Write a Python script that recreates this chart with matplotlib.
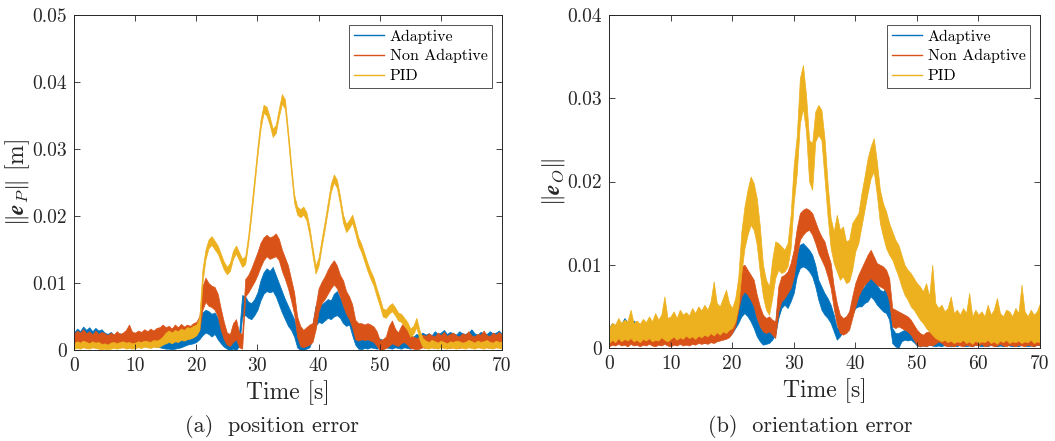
import numpy as np
import matplotlib
matplotlib.use("Agg")
import matplotlib.pyplot as plt
from matplotlib.lines import Line2D
from matplotlib.ticker import FuncFormatter, MultipleLocator

plt.rcParams["font.family"] = ["cmr10", "DejaVu Serif"]
plt.rcParams["mathtext.fontset"] = "cm"
plt.rcParams["axes.unicode_minus"] = False

# time grid [s], one sample every 0.5 s
time = np.arange(0, 70.5, 0.5)

labels = ["Adaptive", "Non Adaptive", "PID"]
colors = ["#0072BD", "#D95319", "#EDB120"]

# Position error ||e_P||: (min, max) of the noisy trace in each 0.5 s slot, in mm
pos_adaptive = [
    (0.5,2.6),(0.7,3.2),(0.6,2.8),(0.8,3.5),(0.6,3.0),(0.7,3.4),(0.5,2.8),(0.8,3.3),(0.6,2.9),(0.5,3.1),
    (0.6,2.6),(0.4,2.4),(0.6,2.7),(0.5,2.3),(0.4,2.2),(0.6,2.5),(0.5,2.1),(0.4,2.3),(0.6,2.6),(0.5,2.4),
    (0.4,2.2),(0.6,2.5),(0.5,2.3),(0.6,2.6),(0.5,2.4),(0.4,2.2),(0.6,2.7),(0.5,2.4),(0.4,2.3),(0.3,2.0),
    (0.2,1.8),(0.2,1.6),(0.1,1.5),(0.2,1.6),(0.3,1.7),(0.4,1.8),(0.6,2.0),(0.8,2.3),(0.9,2.5),(1.0,2.8),
    (1.2,3.0),(1.6,3.6),(2.2,5.6),(2.6,6.0),(2.4,5.8),(2.0,5.4),(2.4,5.6),(1.6,4.8),(1.0,3.6),(0.5,2.6),
    (0.2,2.0),(0.0,1.8),(0.2,2.2),(0.0,1.6),(0.6,2.6),(5.0,8.2),(5.2,8.0),(4.8,7.2),(4.6,7.0),(5.2,7.6),
    (6.0,8.6),(7.4,10.4),(8.4,11.6),(8.8,12.2),(8.6,11.8),(8.8,12.4),(8.0,11.2),(6.8,10.0),(5.6,8.8),(4.6,7.6),
    (3.6,6.6),(3.0,5.6),(2.0,4.6),(0.4,2.4),(0.0,1.6),(0.0,1.4),(0.2,1.6),(0.4,2.0),(1.6,3.8),(3.6,6.6),
    (4.2,7.0),(4.0,6.8),(4.4,7.2),(4.8,7.6),(4.6,7.4),(5.0,8.4),(5.2,8.8),(4.8,7.8),(4.0,7.2),(3.6,6.6),
    (3.8,7.0),(2.2,5.4),(0.8,3.0),(0.2,2.0),(0.1,1.6),(0.3,1.8),(0.2,1.5),(0.4,1.9),(0.3,1.6),(0.2,1.4),
    (0.3,1.7),(0.2,1.5),(0.4,1.8),(0.3,1.6),(0.2,1.4),(0.4,1.7),(0.3,1.5),(0.2,1.6),(0.4,1.8),(0.3,1.5),
    (0.2,1.4),(0.4,2.0),(0.5,2.4),(0.6,2.2),(0.5,2.6),(0.7,2.3),(0.6,2.5),(0.5,2.2),(0.7,2.8),(0.6,2.4),
    (0.5,2.6),(0.7,3.0),(0.6,2.4),(0.5,2.7),(0.7,2.5),(0.6,2.3),(0.5,2.8),(0.7,2.5),(0.6,2.4),(0.5,2.6),
    (0.7,3.1),(0.6,2.5),(0.5,2.3),(0.7,2.7),(0.6,2.5),(0.5,2.4),(0.7,2.8),(0.6,2.5),(0.5,2.6),(0.7,2.9),
    (0.6,2.4)]
pos_nonadaptive = [
    (0.3,2.4),(0.5,2.9),(0.4,2.6),(0.6,3.1),(0.3,2.5),(0.5,2.8),(0.4,2.3),(0.6,2.9),(0.3,2.4),(0.5,2.7),
    (0.4,2.5),(0.3,2.2),(0.5,2.6),(0.4,2.3),(0.6,2.8),(0.4,2.4),(0.5,2.6),(0.7,3.0),(0.6,3.8),(0.5,2.7),
    (0.6,2.6),(0.7,2.9),(0.6,2.7),(0.8,3.1),(0.7,2.8),(0.9,3.2),(0.8,2.9),(1.0,3.3),(1.1,3.4),(1.3,3.8),
    (1.2,3.4),(1.4,3.6),(1.3,3.2),(1.5,3.8),(1.4,3.4),(1.6,3.9),(1.5,3.5),(1.7,3.8),(1.8,3.6),(2.0,4.0),
    (2.3,4.2),(3.0,5.0),(6.0,9.5),(7.2,10.8),(6.6,10.0),(6.4,9.6),(6.0,9.4),(5.0,8.4),(3.0,6.2),(1.6,4.2),
    (0.8,2.6),(0.6,2.4),(1.2,4.0),(1.6,4.6),(0.4,2.6),(0.2,2.4),(8.0,10.6),(8.6,11.2),(9.4,12.2),(10.2,13.4),
    (11.2,14.6),(12.4,16.0),(13.4,16.8),(14.0,17.2),(13.6,16.8),(13.8,17.0),(14.0,17.4),(13.4,16.6),(11.8,15.0),(10.6,13.8),
    (9.2,12.6),(7.4,10.6),(5.4,8.6),(2.0,5.0),(0.6,3.6),(0.4,3.0),(0.6,3.4),(0.8,3.8),(1.2,4.0),(3.0,6.5),
    (5.8,9.2),(7.0,10.2),(7.6,11.0),(8.4,12.0),(9.2,12.8),(9.8,13.4),(9.2,12.6),(8.0,11.2),(6.6,10.4),(5.4,8.8),
    (4.6,8.0),(3.4,6.8),(1.6,4.5),(1.4,4.0),(1.6,4.0),(1.5,3.8),(1.6,4.0),(1.4,3.8),(1.2,3.5),(0.6,2.8),
    (0.0,1.5),(0.1,1.6),(0.3,2.0),(0.6,3.6),(1.0,4.4),(0.8,3.2),(0.6,2.6),(1.0,3.6),(1.2,4.2),(0.8,3.2),
    (0.3,2.2),(0.2,2.0),(0.1,1.8),(0.2,2.0),(0.4,2.3),(0.3,2.1),(0.5,2.5),(0.4,2.2),(0.3,2.0),(0.5,2.6),
    (0.4,2.2),(0.6,2.7),(0.4,2.1),(0.3,2.4),(0.5,2.6),(0.4,2.2),(0.3,2.0),(0.5,2.5),(0.4,2.3),(0.6,2.8),
    (0.4,2.2),(0.3,2.0),(0.5,2.4),(0.4,2.3),(0.6,2.9),(0.4,2.2),(0.3,2.1),(0.5,2.6),(0.4,2.3),(0.6,2.7),
    (0.4,2.2)]
pos_pid = [
    (0.2,1.0),(0.3,1.3),(0.2,1.1),(0.4,1.4),(0.3,1.2),(0.2,1.0),(0.4,1.3),(0.3,1.1),(0.2,1.2),(0.1,0.9),
    (0.2,1.0),(0.1,0.8),(0.2,1.1),(0.3,1.2),(0.2,1.0),(0.3,1.2),(0.4,1.3),(0.2,1.1),(0.3,1.2),(0.2,1.0),
    (0.3,1.1),(0.4,1.3),(0.3,1.2),(0.5,1.4),(0.4,1.3),(0.3,1.2),(0.5,1.5),(0.4,1.4),(0.5,1.6),(0.8,2.0),
    (1.0,2.6),(1.2,2.9),(1.0,2.6),(1.3,3.0),(1.2,2.8),(1.5,3.2),(1.4,3.0),(1.6,3.4),(1.7,3.3),(1.9,3.6),
    (2.2,3.8),(3.0,4.8),(10.0,12.0),(13.5,15.0),(15.2,16.5),(15.7,17.0),(15.0,16.3),(14.4,15.6),(13.2,14.4),(12.0,13.2),
    (11.3,12.4),(11.8,13.0),(13.6,14.8),(14.4,15.6),(13.4,14.6),(12.4,13.6),(12.8,14.0),(16.0,17.2),(20.0,21.4),(24.5,25.8),
    (29.0,30.3),(33.0,34.3),(35.4,36.6),(35.0,36.3),(33.6,34.8),(31.8,33.0),(32.4,33.6),(34.8,36.0),(36.8,38.2),(36.0,37.4),
    (31.5,32.8),(26.5,27.8),(22.0,23.2),(20.2,21.4),(19.8,21.0),(20.2,21.4),(19.4,20.6),(17.2,18.4),(14.2,15.4),(11.4,12.6),
    (12.6,13.8),(15.4,16.6),(18.0,19.2),(20.8,22.0),(23.6,24.8),(25.0,26.2),(24.2,25.4),(21.8,23.0),(19.0,20.2),(17.6,18.8),
    (18.2,19.4),(19.0,20.2),(17.4,18.6),(15.6,16.8),(14.6,15.8),(13.2,14.4),(11.8,13.0),(10.6,11.8),(9.6,10.8),(8.0,9.2),
    (6.6,7.8),(5.0,6.2),(4.8,6.0),(5.4,6.6),(5.8,7.0),(5.2,6.4),(4.4,5.6),(4.2,5.4),(3.6,4.8),(3.0,4.2),
    (2.0,3.2),(2.4,3.6),(3.4,4.8),(1.6,3.0),(0.5,1.8),(0.3,1.4),(0.2,1.2),(0.4,1.5),(0.3,1.3),(0.2,1.1),
    (0.4,1.4),(0.3,1.2),(0.2,1.0),(0.4,1.3),(0.3,1.2),(0.2,1.4),(0.4,1.3),(0.3,1.1),(0.2,1.2),(0.4,1.5),
    (0.3,1.3),(0.2,1.1),(0.4,1.4),(0.3,1.2),(0.2,1.3),(0.4,1.5),(0.3,1.2),(0.2,1.1),(0.4,1.4),(0.3,1.2),
    (0.2,1.3)]

# Orientation error ||e_O||: (min, max) of the noisy trace in each 0.5 s slot, x 1e-3
ori_adaptive = [
    (0.5,2.4),(0.8,3.0),(0.6,2.7),(0.9,3.2),(0.7,2.9),(1.0,3.6),(0.8,3.1),(0.6,2.8),(0.9,3.3),(0.7,3.0),
    (0.6,2.7),(0.8,3.0),(0.7,2.8),(0.9,3.2),(0.6,2.6),(0.8,2.9),(0.7,2.7),(0.6,2.5),(0.8,2.9),(0.7,2.7),
    (0.6,2.6),(0.8,3.0),(0.7,2.8),(0.9,3.3),(0.8,3.1),(0.7,3.4),(0.9,3.2),(0.8,3.6),(0.7,3.2),(0.8,3.0),
    (0.7,2.8),(0.6,2.6),(0.7,2.7),(0.8,2.9),(0.7,2.6),(0.9,2.8),(1.0,2.9),(1.2,3.0),(1.3,3.2),(1.4,3.0),
    (1.8,3.2),(2.4,4.4),(3.0,6.0),(3.8,7.4),(4.2,7.8),(3.8,7.0),(3.2,6.2),(2.4,5.2),(1.4,3.6),(0.8,2.6),
    (0.4,2.0),(0.5,2.2),(0.6,2.0),(1.0,2.6),(1.6,3.0),(3.6,6.4),(4.8,7.8),(5.2,7.8),(4.8,7.0),(5.6,8.2),
    (6.6,9.4),(8.6,11.4),(9.6,12.4),(9.8,12.6),(9.6,12.2),(9.2,11.8),(8.6,11.2),(7.4,10.0),(5.8,8.2),(4.6,7.4),
    (4.0,6.6),(3.6,6.0),(3.0,5.2),(2.0,4.0),(1.0,2.4),(1.4,2.8),(2.0,3.2),(2.4,3.6),(2.8,4.2),(4.0,5.8),
    (4.8,6.6),(5.0,6.8),(5.0,7.0),(5.4,7.4),(5.6,8.2),(6.2,9.0),(5.8,8.4),(5.2,7.6),(4.8,7.0),(4.4,6.8),
    (4.2,7.2),(3.4,6.0),(0.6,2.4),(0.2,1.8),(0.0,1.8),(0.8,2.0),(1.0,2.2),(0.9,2.0),(1.0,2.3),(0.7,2.0),
    (0.3,1.6),(0.2,1.4),(0.3,1.5),(0.2,1.3),(0.4,1.6),(0.3,1.4),(0.2,1.5),(0.3,1.7),(0.2,1.4),(0.4,1.6),
    (0.3,1.5),(0.2,1.3),(0.3,1.6),(0.2,1.4),(0.4,1.7),(0.3,1.5),(0.2,1.3),(0.3,1.6),(0.2,1.4),(0.4,1.5),
    (0.3,1.7),(0.2,1.4),(0.3,1.5),(0.2,1.3),(0.4,1.6),(0.3,1.4),(0.2,1.5),(0.3,1.7),(0.2,1.4),(0.4,1.6),
    (0.3,1.5),(0.2,1.3),(0.3,1.6),(0.2,1.4),(0.4,1.7),(0.3,1.5),(0.2,1.3),(0.3,1.6),(0.2,1.4),(0.4,1.5),
    (0.3,1.6)]
ori_nonadaptive = [
    (0.2,1.8),(0.4,2.2),(0.3,2.0),(0.5,2.4),(0.3,2.1),(0.4,2.3),(0.2,1.9),(0.5,2.4),(0.3,2.0),(0.4,2.2),
    (0.2,1.8),(0.4,2.1),(0.3,2.0),(0.5,2.3),(0.3,1.9),(0.2,2.1),(0.4,2.2),(0.3,2.0),(0.5,2.4),(0.3,2.1),
    (0.2,1.9),(0.4,2.2),(0.3,2.0),(0.5,2.3),(0.3,2.1),(0.4,2.2),(0.3,1.9),(0.5,2.3),(0.4,2.1),(0.6,2.4),
    (0.5,2.2),(0.6,2.5),(0.5,2.3),(0.7,2.6),(0.6,2.4),(0.8,2.8),(0.9,2.7),(1.0,3.0),(1.1,3.0),(1.3,3.2),
    (1.8,3.6),(2.6,4.8),(4.6,7.8),(6.2,9.8),(6.8,10.0),(6.4,9.4),(5.8,8.8),(5.0,8.2),(3.6,6.4),(2.6,5.0),
    (2.0,4.0),(1.8,3.6),(2.0,3.8),(1.6,3.4),(1.2,3.2),(4.4,7.4),(5.6,8.6),(6.0,8.8),(6.6,9.2),(7.2,10.2),
    (8.6,11.8),(11.0,14.4),(13.0,16.2),(13.6,16.6),(14.0,16.8),(14.2,16.6),(13.6,16.2),(12.6,15.2),(11.4,14.2),(10.6,13.4),
    (9.8,12.8),(8.6,11.4),(7.2,10.2),(4.8,7.4),(2.8,5.4),(1.8,4.0),(1.6,3.6),(1.8,3.8),(2.2,4.4),(3.6,6.2),
    (5.0,7.8),(6.2,8.8),(7.0,9.6),(7.6,10.4),(8.0,11.2),(8.4,11.8),(8.0,11.0),(7.6,10.2),(7.4,10.0),(7.2,9.8),
    (6.8,9.4),(5.6,8.4),(2.6,4.8),(2.4,4.6),(2.6,4.4),(2.4,4.2),(2.2,4.0),(2.0,3.8),(1.6,3.4),(1.0,2.8),
    (0.4,2.2),(0.2,1.8),(0.3,1.6),(0.2,1.9),(0.4,2.0),(0.3,2.2),(0.5,2.6),(0.8,3.8),(0.6,2.8),(0.3,2.0),
    (0.2,1.8),(0.3,2.0),(0.2,1.7),(0.4,2.1),(0.3,1.9),(0.2,1.8),(0.4,2.2),(0.3,1.9),(0.2,1.7),(0.4,2.0),
    (0.3,1.8),(0.5,2.3),(0.2,1.9),(0.3,1.7),(0.4,2.1),(0.2,1.8),(0.3,2.0),(0.5,2.4),(0.3,1.9),(0.2,1.7),
    (0.4,2.1),(0.3,1.8),(0.2,2.0),(0.4,2.2),(0.3,1.9),(0.2,1.7),(0.4,2.1),(0.3,1.9),(0.2,1.8),(0.4,2.2),
    (0.3,2.0)]
ori_pid = [
    (0.6,2.4),(1.0,3.0),(0.7,2.8),(1.2,3.6),(0.8,3.0),(1.1,3.4),(0.9,3.2),(1.2,4.6),(0.8,3.0),(1.0,3.3),
    (0.7,2.9),(1.1,3.5),(0.9,3.1),(1.2,3.8),(0.8,3.2),(1.0,4.2),(0.9,3.4),(1.3,4.0),(1.0,6.2),(0.8,3.6),
    (1.1,3.8),(1.4,4.4),(1.0,3.6),(1.3,4.6),(1.1,4.0),(1.5,4.3),(1.2,3.9),(1.4,4.8),(1.1,4.2),(1.5,5.0),
    (1.3,4.5),(1.6,5.2),(1.4,4.6),(1.8,5.6),(1.5,8.0),(1.9,5.4),(1.6,5.0),(2.0,6.0),(1.8,7.0),(2.2,5.4),
    (2.4,4.8),(3.2,6.0),(5.0,8.5),(9.0,14.0),(12.0,17.0),(13.6,19.0),(14.8,20.6),(14.2,19.8),(12.4,18.0),(9.0,14.6),
    (6.2,10.0),(4.6,8.2),(4.0,7.4),(6.0,10.6),(8.4,12.8),(9.4,12.6),(9.0,12.2),(9.2,11.8),(9.8,12.6),(12.0,16.0),
    (17.5,22.0),(21.0,25.5),(27.0,32.4),(28.8,34.0),(26.0,30.4),(20.0,25.0),(19.0,24.6),(24.8,28.4),(25.6,29.2),(25.0,28.6),
    (20.4,25.2),(15.8,19.8),(12.0,15.6),(10.2,14.0),(9.2,16.0),(8.2,14.2),(8.6,14.6),(7.8,12.8),(8.0,13.0),(9.4,15.0),
    (11.6,15.6),(12.6,16.2),(14.6,18.6),(16.6,20.6),(18.6,22.8),(20.4,24.2),(21.2,25.2),(18.4,22.4),(15.0,19.0),(13.4,17.4),
    (12.0,16.4),(11.2,15.0),(10.6,14.0),(9.6,13.0),(8.6,12.4),(7.4,11.2),(6.4,10.0),(5.8,9.4),(5.0,9.0),(4.6,8.4),
    (4.0,7.8),(3.4,7.4),(3.0,6.8),(2.4,7.8),(2.0,6.2),(1.6,10.0),(1.2,5.4),(1.0,4.8),(0.8,5.2),(1.0,4.4),
    (0.7,4.8),(0.9,6.2),(0.6,4.2),(0.8,4.6),(0.7,4.0),(1.0,4.8),(0.6,4.2),(0.8,6.6),(0.5,3.8),(0.9,4.6),
    (0.6,4.0),(0.8,4.4),(0.7,3.8),(1.0,5.2),(0.6,4.0),(0.8,4.6),(0.5,6.0),(0.9,4.2),(0.7,3.8),(1.0,4.6),
    (0.6,4.4),(0.8,3.8),(0.7,4.8),(0.9,4.2),(0.6,7.6),(0.8,4.4),(0.7,3.8),(1.0,4.6),(0.6,4.0),(0.8,4.4),
    (0.7,5.4)]

pos_series = [pos_adaptive, pos_nonadaptive, pos_pid]
ori_series = [ori_adaptive, ori_nonadaptive, ori_pid]

fig = plt.figure(figsize=(10.55, 4.41), dpi=100)
W, H = 1055, 441
ax1 = fig.add_axes([74 / W, (H - 350) / H, 428 / W, 335 / H])
ax2 = fig.add_axes([609 / W, (H - 348) / H, 431 / W, 333 / H])

edge = "#262626"
fmt = FuncFormatter(lambda v, p: "0" if abs(v) < 1e-12 else f"{v:g}")


def draw(ax, series, ymax, ylabel, caption, cx):
    for band, c in zip(series, colors):
        lo, hi = np.asarray(band, dtype=float).T * 1e-3
        ax.fill_between(time, lo, hi, color=c, lw=0.5)
    ax.set_xlim(0, 70)
    ax.set_ylim(0, ymax)
    ax.xaxis.set_major_locator(MultipleLocator(10))
    ax.yaxis.set_major_locator(MultipleLocator(0.01))
    ax.yaxis.set_major_formatter(fmt)
    ax.tick_params(direction="in", top=True, right=True, length=4, width=0.6,
                   colors=edge, labelsize=14, pad=5)
    for s in ax.spines.values():
        s.set_color(edge)
        s.set_linewidth(0.7)
    ax.set_xlabel("Time [s]", fontsize=17, color=edge, labelpad=4)
    ax.set_ylabel(ylabel, fontsize=17, color=edge)
    ax.yaxis.set_label_coords(-0.098, 0.5)
    handles = [Line2D([], [], color=c, lw=1.0) for c in colors]
    leg = ax.legend(handles, labels, loc="upper right", fontsize=11.5,
                    frameon=True, fancybox=False, edgecolor=edge,
                    borderaxespad=0.6, handlelength=1.9, handletextpad=0.35,
                    labelspacing=0.35, borderpad=0.3)
    leg.get_frame().set_linewidth(0.7)
    fig.text(cx, 14 / H, caption, ha="center", va="center", fontsize=16, color=edge)


draw(ax1, pos_series, 0.05, r"$\Vert\boldsymbol{e}_P\Vert$ [m]", "(a)  position error", 272 / W)
draw(ax2, ori_series, 0.04, r"$\Vert\boldsymbol{e}_O\Vert$", "(b)  orientation error", 810 / W)

fig.savefig("out.png", dpi=100)
